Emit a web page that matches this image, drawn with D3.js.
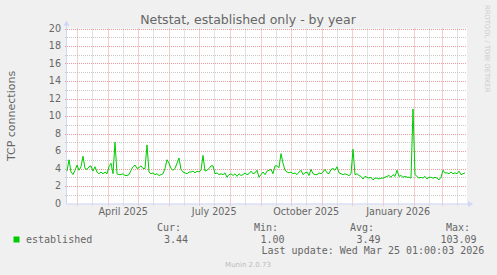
<!DOCTYPE html>
<html><head><meta charset="utf-8">
<script src="https://cdn.jsdelivr.net/npm/d3@7"></script>
<style>html,body{margin:0;padding:0;background:#f0f0f0}svg{display:block}</style>
</head><body><div id="chart"></div>
<script>
// ---------- data ----------
const title = "Netstat, established only - by year";
const yLabel = "TCP connections";
const seriesName = "established";
const firstSample = "2025-02-19T07:00:00Z";
const stepDays = 2;
const established = [
3.7,5.0,3.6,3.3,3.8,4.4,3.8,4.2,5.4,4.0,3.9,4.2,4.3,3.7,4.2,3.6,3.4,3.6,3.4,3.6,
3.4,4.2,4.6,3.4,7.0,3.4,3.3,3.3,3.4,3.2,3.2,3.3,3.8,4.2,4.4,4.0,4.1,4.3,4.0,4.0,
6.7,3.6,3.4,3.5,3.3,3.4,3.2,3.3,3.4,4.0,5.0,4.6,4.0,3.8,4.0,4.6,5.2,3.9,3.6,3.5,
3.4,3.6,3.6,3.7,3.5,3.7,3.6,3.8,5.5,3.7,3.8,4.0,4.3,4.3,3.4,3.5,3.3,3.4,3.3,3.5,
3.0,3.3,3.4,3.2,3.4,3.1,3.4,3.2,3.3,3.5,3.3,3.4,3.7,3.4,3.5,3.8,3.0,3.3,3.6,3.3,
3.7,3.8,3.9,3.4,4.3,4.3,4.1,5.7,4.6,3.8,3.6,3.5,3.6,3.4,3.5,3.3,3.6,3.8,3.3,3.5,
3.6,3.2,3.9,3.4,3.3,3.3,3.5,3.4,3.6,3.9,3.5,3.4,3.9,4.0,3.8,4.2,3.5,3.4,3.3,3.4,
3.3,3.2,3.4,6.2,3.3,3.4,3.2,3.1,2.8,3.1,3.0,2.9,3.0,2.7,2.9,2.9,2.8,2.9,2.9,3.0,
3.1,3.2,3.0,3.3,3.1,3.8,3.1,3.2,3.0,3.1,3.0,3.0,2.9,10.8,3.3,3.1,2.9,3.0,2.9,3.1,
2.8,3.0,3.0,2.9,3.0,2.9,2.7,3.0,3.8,3.5,3.5,3.4,3.6,3.4,3.5,3.4,3.7,3.3,3.4,3.5
];
const yTicks = [0,2,4,6,8,10,12,14,16,18,20];
const yMinorTicks = [1,3,5,7,9,11,13,15,17,19];
const monthLabels = ["April 2025","July 2025","October 2025","January 2026"];
const monthLabelDates = ["2025-04-16T12:00:00Z","2025-07-16T12:00:00Z","2025-10-16T12:00:00Z","2026-01-16T12:00:00Z"];
const legendHeads = ["Cur:","Min:","Avg:","Max:"];
const legendValues = ["3.44","1.00","3.49","103.09"];
const lastUpdate = "Last update: Wed Mar 25 01:00:03 2026";
const footer = "Munin 2.0.73";
const watermark = "RRDTOOL / TOBI OETIKER";

// ---------- layout ----------
const W = 497, H = 275;
const L = 67, R = 467, T = 28.5, B = 203.5;
const domainStart = new Date("2025-02-19T07:00:00Z");
const domainEnd = new Date("2026-03-26T07:00:00Z");
const green = "#00cc00", fontCol = "#666666", axisCol = "#cfd6f8";
const sans = "'DejaVu Sans', sans-serif", mono = "'DejaVu Sans Mono', monospace";

const svg = d3.select("#chart").append("svg").attr("width", W).attr("height", H);
svg.append("rect").attr("width", W).attr("height", H).attr("fill", "#f0f0f0");
svg.append("rect").attr("x", L).attr("y", T).attr("width", R - L).attr("height", B - T).attr("fill", "#ffffff");

const x = d3.scaleUtc().domain([domainStart, domainEnd]).range([L, R]);
const y = d3.scaleLinear().domain([0, 20]).range([B, T]);

const t0 = new Date(firstSample);
const data = established.map((v, i) => ({ t: d3.utcDay.offset(t0, i * stepDays), v }));

// grid: minor horizontal
const g = svg.append("g");
g.selectAll(".hm").data(yMinorTicks).join("line")
  .attr("x1", L - 2).attr("x2", R).attr("y1", d => Math.round(y(d)) + 0.5).attr("y2", d => Math.round(y(d)) + 0.5)
  .attr("stroke", "#c8c8c8").attr("stroke-dasharray", "1,1");
// minor vertical (mid month)
const months = d3.utcMonth.range(d3.utcMonth.floor(domainStart), domainEnd);
const mids = months.map(m => d3.utcDay.offset(m, 15)).filter(d => d > domainStart && d < domainEnd);
g.selectAll(".vm").data(mids).join("line")
  .attr("x1", d => Math.round(x(d)) + 0.5).attr("x2", d => Math.round(x(d)) + 0.5)
  .attr("y1", T).attr("y2", B + 2)
  .attr("stroke", "#c8c8c8").attr("stroke-dasharray", "1,1");
// major horizontal
g.selectAll(".hM").data(yTicks.filter(d => d > 0)).join("line")
  .attr("x1", L - 2).attr("x2", R).attr("y1", d => Math.round(y(d)) + 0.5).attr("y2", d => Math.round(y(d)) + 0.5)
  .attr("stroke", "#ec9a9a").attr("stroke-dasharray", "1,1");
// major vertical (month starts)
const mStarts = months.filter(d => d > domainStart && d < domainEnd);
g.selectAll(".vM").data(mStarts).join("line")
  .attr("x1", d => Math.round(x(d)) + 0.5).attr("x2", d => Math.round(x(d)) + 0.5)
  .attr("y1", T).attr("y2", B + 3)
  .attr("stroke", "#ec9a9a").attr("stroke-dasharray", "1,1");

// axes lines with arrows
svg.append("line").attr("x1", L - 0.5).attr("x2", L - 0.5).attr("y1", B + 0.5).attr("y2", T - 4).attr("stroke", axisCol);
svg.append("line").attr("x1", L - 0.5).attr("x2", R + 3).attr("y1", B + 0.5).attr("y2", B + 0.5).attr("stroke", axisCol);
svg.append("path").attr("d", `M${L - 3.5},${T - 3} L${L - 0.5},${T - 8} L${L + 2.5},${T - 3} Z`).attr("fill", axisCol);
svg.append("path").attr("d", `M${R + 1},${B - 2.5} L${R + 6},${B + 0.5} L${R + 1},${B + 3.5} Z`).attr("fill", axisCol);

// y tick labels
svg.append("g").selectAll("text").data(yTicks).join("text")
  .attr("x", 61).attr("y", d => y(d)).attr("dy", "0.36em").attr("text-anchor", "end")
  .attr("font-family", sans).attr("font-size", 9.6).attr("fill", fontCol).text(d => d);

// x labels
svg.append("g").selectAll("text").data(monthLabels).join("text")
  .attr("x", (d, i) => x(new Date(monthLabelDates[i]))).attr("y", 215).attr("text-anchor", "middle")
  .attr("font-family", sans).attr("font-size", 9.6).attr("fill", fontCol).text(d => d);

// series line
svg.append("path").datum(data)
  .attr("d", d3.line().x(d => x(d.t)).y(d => y(d.v)))
  .attr("fill", "none").attr("stroke", green).attr("stroke-width", 1);

// title
svg.append("text").attr("x", 248).attr("y", 23.5).attr("text-anchor", "middle")
  .attr("font-family", sans).attr("font-size", 12.5).attr("fill", fontCol).text(title);

// y axis label
svg.append("text").attr("transform", `translate(15,${(T + B) / 2}) rotate(-90)`).attr("text-anchor", "middle")
  .attr("font-family", sans).attr("font-size", 11).attr("fill", fontCol).text(yLabel);

// watermark
svg.append("text").attr("transform", "translate(485,5) rotate(90)")
  .attr("font-family", sans).attr("font-size", 6.8).attr("fill", "#cccccc").text(watermark);

// legend
svg.append("rect").attr("x", 13.5).attr("y", 236.5).attr("width", 6).attr("height", 6).attr("fill", green);
const lg = svg.append("g").attr("font-family", mono).attr("font-size", 10).attr("fill", fontCol);
lg.append("text").attr("x", 26).attr("y", 242.5).text(seriesName);
const headX = [181, 278, 374, 470];
const valX = [188, 284.5, 380.5, 476.5];
lg.selectAll(".h").data(legendHeads).join("text").attr("x", (d, i) => headX[i]).attr("y", 231).attr("text-anchor", "end").text(d => d);
lg.selectAll(".v").data(legendValues).join("text").attr("x", (d, i) => valX[i]).attr("y", 242.5).attr("text-anchor", "end").attr("xml:space", "preserve").text(d => d);
lg.append("text").attr("x", 261.5).attr("y", 254).text(lastUpdate);

svg.append("text").attr("x", 248).attr("y", 267).attr("text-anchor", "middle")
  .attr("font-family", sans).attr("font-size", 7).attr("fill", "#bbbbbb").text(footer);
</script>
</body></html>
